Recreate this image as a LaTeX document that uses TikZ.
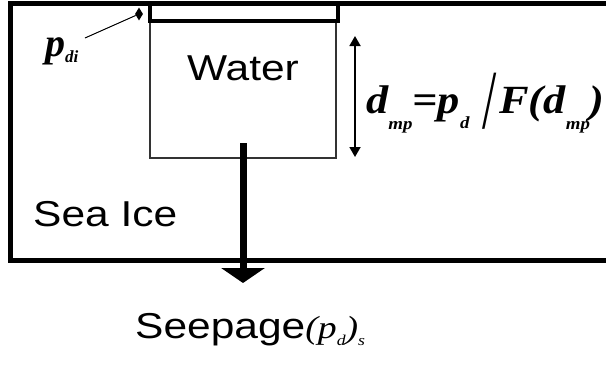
\documentclass[tikz,border=0pt]{standalone}
\usepackage{fontspec}
\setmainfont{Liberation Sans}
\newfontfamily\tnr{Liberation Serif}
\usetikzlibrary{arrows.meta,shapes.geometric}
\newcommand\lowsub[2][9pt]{\raisebox{-#1}{\fontsize{15}{15}\selectfont #2}}
\newcommand\bigsub[2][16pt]{\raisebox{-#1}{\fontsize{17}{17}\selectfont #2}}
\begin{document}
\begin{tikzpicture}[x=1pt,y=-1pt,
  txt/.style={inner sep=0pt, xscale=1.18},
  sans/.style={txt, font=\fontsize{36}{36}\selectfont},
  frm/.style={inner sep=0pt, font=\tnr\bfseries\itshape\fontsize{40}{40}\selectfont},
  thickline/.style={line width=5pt},
  thinline/.style={line width=1.6pt, draw=black!80},
  flow/.style={line width=7pt, -{Triangle[width=43pt,length=15pt]}},
  dim/.style={line width=1.8pt, {Triangle[width=11pt,length=10pt]}-{Triangle[width=11pt,length=10pt]}},
  lead/.style={line width=1pt}]
\useasboundingbox (0,0) rectangle (606,367);
\clip (0,0) rectangle (606,367);
\fill[white] (0,0) rectangle (606,367);
% sea ice
\draw[thickline] (10,3) rectangle (640,260);
% water and lid
\draw[thinline] (150,21) rectangle (336,158);
\draw[line width=4pt] (150,3) rectangle (338,21);
% labels
\node[sans, anchor=base] (water) at (243,80) {Water};
\node[sans, anchor=base west] (ice) at (33,226) {Sea Ice};
\node[sans, anchor=base west] (seep) at (135,338) {Seepage{\tnr\itshape\fontsize{32}{32}\selectfont(p\lowsub[7pt]{d})\lowsub[7pt]{s}}};
\node[frm, xscale=1.11, anchor=base west] (eq) at (366,113) {d\bigsub{mp}=p\bigsub[15pt]{d}\hspace{12pt}\raisebox{-15pt}{\scalebox{0.55}[1]{\mdseries\upshape\fontsize{84}{84}\selectfont /}}\hspace{2pt}F(d\bigsub{mp})};
\node[frm, anchor=base west] (pdi) at (45,56) {p\bigsub[6pt]{di}};
% seepage arrow
\coordinate (s0) at (243,143);
\coordinate (s1) at (243,283);
\draw[flow] (s0) -- (s1);
% depth arrow
\coordinate (d0) at (355,36);
\coordinate (d1) at (355,157);
\draw[dim] (d0) -- (d1);
% p_di leader
\node[diamond, fill, inner sep=0pt, minimum width=8pt, minimum height=13pt] (dia) at (139,14) {};
\coordinate (l0) at (85,38);
\draw[lead] (l0) -- (dia);
\end{tikzpicture}
\end{document}
